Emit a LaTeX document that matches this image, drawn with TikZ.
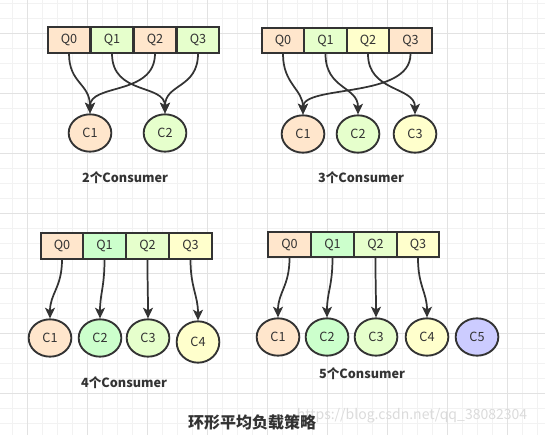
\documentclass[tikz,border=0pt]{standalone}
\usepackage{fontspec}
\setmainfont{Noto Sans CJK SC}
\usetikzlibrary{arrows.meta}
\usetikzlibrary{shapes}

\definecolor{peach}{HTML}{FFE6CC}
\definecolor{lime}{HTML}{E6FFCC}
\definecolor{mint}{HTML}{CCFFCC}
\definecolor{cream}{HTML}{FFFFCC}
\definecolor{lilac}{HTML}{CCCCFF}
\definecolor{ink}{HTML}{333333}
\definecolor{gridminor}{HTML}{F2F2F2}
\definecolor{gridmajor}{HTML}{E2E2E2}

\tikzset{
  queue/.style={draw=ink, line width=1.4pt, minimum width=32pt, minimum height=19pt,
    inner sep=0pt, text=ink, font=\fontsize{9.5}{10}\selectfont},
  consumer/.style={draw=ink, ellipse, line width=1.4pt, minimum width=32pt,
    minimum height=28pt, inner sep=0pt, text=ink, font=\fontsize{9.5}{10}\selectfont},
  link/.style={draw=ink, line width=1.3pt, -{Stealth[length=8pt,width=7.5pt,inset=2pt]}},
  caption/.style={text=ink, font=\bfseries\fontsize{9.5}{10}\selectfont}
}

\begin{document}
\begin{tikzpicture}[x=0.75pt, y=-0.75pt]

    % Canvas and background grid
    \fill[white] (0, 0) rectangle (545, 435);
    \useasboundingbox (0, 0) rectangle (545, 435);
    \foreach \gx in {12, 27, ..., 545} {
        \draw[gridminor, line width=0.5pt] (\gx, 0) -- (\gx, 435);
    }
    \foreach \gy in {3, 18, ..., 435} {
        \draw[gridminor, line width=0.5pt] (0, \gy) -- (545, \gy);
    }
    \foreach \gx in {27, 87, ..., 545} {
        \draw[gridmajor, line width=0.6pt] (\gx, 0) -- (\gx, 435);
    }
    \foreach \gy in {33, 93, ..., 435} {
        \draw[gridmajor, line width=0.6pt] (0, \gy) -- (545, \gy);
    }

    % 2 consumers
    \node[queue, fill=peach] at (69, 40) (aQ0) {Q0};
    \node[queue, fill=lime] at (112, 40) (aQ1) {Q1};
    \node[queue, fill=peach] at (155, 40) (aQ2) {Q2};
    \node[queue, fill=lime] at (198, 40) (aQ3) {Q3};
    \node[consumer, fill=peach] at (90, 133) (aC1) {C1};
    \node[consumer, fill=lime] at (165, 133) (aC2) {C2};
    \node[caption] at (125, 178) (aCap) {2个Consumer};

    \draw[link] (aQ0.south) .. controls +(0, 30) and +(0, -30) .. (aC1.north);
    \draw[link] (aQ2.south) .. controls +(0, 42) and +(0, -30) .. (aC1.north);
    \draw[link] (aQ1.south) .. controls +(0, 42) and +(0, -30) .. (aC2.north);
    \draw[link] (aQ3.south) .. controls +(0, 35) and +(0, -30) .. (aC2.north);

    % 3 consumers
    \node[queue, fill=peach] at (283, 40.5) (bQ0) {Q0};
    \node[queue, fill=lime] at (325.5, 40.5) (bQ1) {Q1};
    \node[queue, fill=cream] at (368, 40.5) (bQ2) {Q2};
    \node[queue, fill=peach] at (410.5, 40.5) (bQ3) {Q3};
    \node[consumer, fill=peach] at (303, 134) (bC1) {C1};
    \node[consumer, fill=lime] at (358, 134) (bC2) {C2};
    \node[consumer, fill=cream] at (415, 134) (bC3) {C3};
    \node[caption] at (361, 178) (bCap) {3个Consumer};

    \draw[link] (bQ0.south) .. controls +(0, 30) and +(0, -25) .. (bC1.north);
    \draw[link] (bQ1.south) .. controls +(0, 35) and +(0, -28) .. (bC2.north);
    \draw[link] (bQ2.south) .. controls +(0, 38) and +(0, -28) .. (bC3.north);
    \draw[link] (bQ3.south) .. controls +(0, 45) and +(0, -30) .. (bC1.north);

    % 4 consumers
    \node[queue, fill=peach] at (62, 246) (cQ0) {Q0};
    \node[queue, fill=mint] at (104.5, 246) (cQ1) {Q1};
    \node[queue, fill=lime] at (147.5, 246) (cQ2) {Q2};
    \node[queue, fill=cream] at (190.5, 246) (cQ3) {Q3};
    \node[consumer, fill=peach] at (50, 338) (cC1) {C1};
    \node[consumer, fill=mint] at (100, 338) (cC2) {C2};
    \node[consumer, fill=lime] at (148, 338) (cC3) {C3};
    \node[consumer, fill=cream, minimum height=31pt] at (198, 342) (cC4) {C4};
    \node[caption] at (124, 383) (cCap) {4个Consumer};

    \draw[link] (cQ0.south) .. controls +(0, 28) and +(0, -25) .. (cC1.north);
    \draw[link] (cQ1.south) .. controls +(0, 28) and +(0, -25) .. (cC2.north);
    \draw[link] (cQ2.south) .. controls +(0, 28) and +(0, -25) .. (cC3.north);
    \draw[link] (cQ3.south) .. controls +(0, 28) and +(0, -25) .. (cC4.north);

    % 5 consumers
    \node[queue, fill=peach] at (289.5, 244.5) (dQ0) {Q0};
    \node[queue, fill=mint] at (332.5, 244.5) (dQ1) {Q1};
    \node[queue, fill=lime] at (375.5, 244.5) (dQ2) {Q2};
    \node[queue, fill=cream] at (418, 244.5) (dQ3) {Q3};
    \node[consumer, fill=peach] at (278, 337) (dC1) {C1};
    \node[consumer, fill=mint] at (327, 337) (dC2) {C2};
    \node[consumer, fill=lime] at (376, 337) (dC3) {C3};
    \node[consumer, fill=cream] at (427, 337) (dC4) {C4};
    \node[consumer, fill=lilac] at (477, 337) (dC5) {C5};
    \node[caption] at (362, 374) (dCap) {5个Consumer};

    \draw[link] (dQ0.south) .. controls +(0, 28) and +(0, -25) .. (dC1.north);
    \draw[link] (dQ1.south) .. controls +(0, 28) and +(0, -25) .. (dC2.north);
    \draw[link] (dQ2.south) .. controls +(0, 28) and +(0, -25) .. (dC3.north);
    \draw[link] (dQ3.south) .. controls +(0, 28) and +(0, -25) .. (dC4.north);

    % Title and watermark
    \node[text=black!14, font=\fontsize{10.5}{11}\selectfont] at (412, 416) (mark) {https://blog.csdn.net/qq\_38082304};
    \node[text=ink, font=\bfseries\fontsize{12}{13}\selectfont] at (252, 422) (title) {环形平均负载策略};

\end{tikzpicture}
\end{document}
